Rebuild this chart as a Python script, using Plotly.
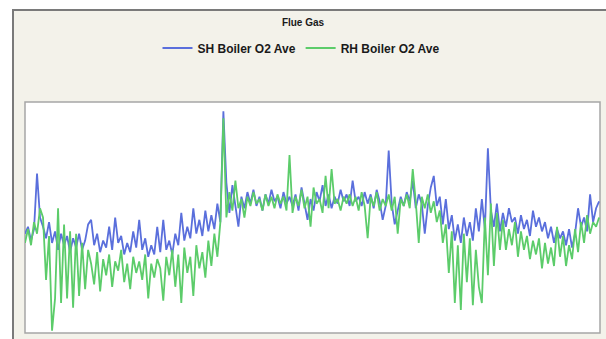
import plotly.graph_objects as go

title_text = "Flue Gas"
series_names = ["SH Boiler O2 Ave", "RH Boiler O2 Ave"]

# sample index (time order)
sample_idx = list(range(192))

sh_o2 = [4.3, 4.6, 4.0, 4.5, 6.9, 5.0,
         4.6, 4.1, 4.8, 3.9, 4.4, 3.6, 4.3, 3.8, 4.2, 3.5, 4.1, 3.7, 4.3, 3.6, 4.0, 4.7,
         4.9, 3.8, 4.3, 3.5, 4.0, 3.7, 4.6, 3.6, 5.0, 3.9, 4.2, 3.4, 3.9, 3.5, 4.4, 3.7,
         4.9, 3.6, 4.1, 3.3, 3.8, 3.4, 4.6, 3.5, 4.9, 3.6, 4.0,
         3.4, 4.3, 3.8, 5.2, 4.0, 4.6, 4.1, 5.4, 4.3, 4.9, 4.2, 5.3, 4.4, 5.1, 4.5, 5.6, 4.8,
         9.6, 6.5,
         5.2, 6.4, 5.5, 4.6, 5.9, 5.4, 6.1, 5.6, 6.2, 5.5,
         5.9, 5.3, 6.0, 5.6, 6.2, 5.7, 5.9, 5.4, 6.1, 5.6,
         5.9, 5.5, 6.0, 5.3, 6.3, 5.6, 4.9, 5.8, 5.3, 6.1,
         5.7, 6.4, 5.5, 6.0, 5.4, 5.9, 5.6, 6.2, 5.7, 6.0,
         5.5, 6.6, 5.7, 5.9, 5.5, 6.1, 5.6, 6.0, 5.4, 6.2,
         5.7, 4.9, 5.5, 7.9, 5.6, 4.7, 5.3, 5.9, 5.5, 6.1,
         5.7, 6.6, 5.4, 6.0, 5.6, 4.3, 5.5, 6.3, 6.8, 5.5, 5.9,
         4.7, 5.8, 4.5, 5.1, 4.0, 4.7, 3.9, 5.0, 4.2, 4.8, 4.0, 5.4, 4.4, 5.8, 4.5, 8.0,
         5.3, 4.6, 5.6, 4.4,
         5.2, 4.6, 5.4, 4.8, 5.0, 4.3, 5.1, 4.5, 4.9, 4.2,
         5.3, 4.6, 5.0, 4.4, 4.8, 4.1, 4.6, 3.9, 4.5, 4.1,
         4.4, 3.8, 4.5, 3.7, 4.3, 5.4, 4.6, 5.0, 4.4, 6.0,
         4.8, 5.4, 5.7]

rh_o2 = [3.9, 4.5, 3.8, 4.8, 4.3, 5.4,
         5.0, 2.3, 4.2, 0.1, 1.5, 5.4, 1.3, 4.7, 1.5, 4.4, 1.1, 4.3, 1.6, 3.9, 1.9, 3.6,
         3.0, 2.1, 3.5, 1.8, 3.2, 2.5, 3.4, 2.0, 3.1, 2.7, 3.6, 2.2, 3.0, 1.9, 3.3, 2.6,
         3.1, 2.3, 3.4, 1.5, 3.0, 2.4, 3.2, 2.8, 1.4, 3.3, 2.5,
         3.6, 2.0, 3.4, 1.3, 3.7, 2.6, 3.3, 1.6, 3.8, 2.8, 3.5, 2.4, 4.0, 2.9, 4.3, 3.3, 4.8,
         9.3, 5.0,
         6.1, 5.3, 6.6, 5.4, 5.8, 5.0, 5.9, 5.5, 6.1, 5.6,
         5.8, 5.3, 6.0, 5.5, 5.9, 5.4, 6.0, 5.6, 5.9, 5.3,
         7.7, 5.2, 5.9, 5.5, 6.2, 5.4, 5.9, 4.6, 6.3, 5.6,
         5.8, 5.2, 6.8, 5.4, 7.1, 5.6, 5.8, 5.3, 5.9, 5.6,
         6.0, 5.5, 5.9, 5.3, 6.1, 5.5, 4.1, 5.9, 5.5, 6.1,
         5.3, 5.8, 5.5, 6.0, 5.3, 5.9, 4.3, 5.8, 5.5, 6.0,
         5.4, 7.1, 5.7, 3.9, 5.9, 5.4, 6.0, 5.2, 5.7, 4.8, 5.3,
         3.9, 4.7, 2.6, 4.4, 1.3, 3.8, 1.0, 4.3, 2.2, 4.1, 1.2, 3.6, 2.0, 1.3, 5.0, 2.5,
         5.6, 2.9, 5.2, 3.6,
         4.9, 3.6, 4.5, 3.8, 4.8, 3.3, 4.4, 3.6, 4.2, 3.2,
         4.0, 3.4, 4.1, 2.8, 3.9, 3.0, 3.7, 2.9, 4.6, 3.3,
         4.2, 2.9, 3.8, 3.2, 4.5, 3.5, 4.8, 3.9, 5.1, 4.3,
         4.8, 4.6, 5.0]

series_colors = ["#5a6fdc", "#5ccc6a"]

W, H = 606, 339
L, R, T, B = 25, 6, 102, 6
pw, ph = W - L - R, H - T - B

def px_to_paper_x(px):
    return (px - L) / pw

def py_to_paper_y(py):
    return (H - B - py) / ph

fig = go.Figure()
for name, vals, col in zip(series_names, [sh_o2, rh_o2], series_colors):
    fig.add_trace(go.Scatter(x=sample_idx, y=vals, mode="lines", name=name,
                             line=dict(color=col, width=1.8)))

shapes = [
    # outer beige panel
    dict(type="rect", xref="paper", yref="paper", layer="below",
         x0=px_to_paper_x(13), x1=px_to_paper_x(612),
         y0=py_to_paper_y(345), y1=py_to_paper_y(10),
         fillcolor="#f3f2ea", line=dict(color="#7a7a7a", width=2)),
    # white plot area
    dict(type="rect", xref="paper", yref="paper", layer="below",
         x0=0, x1=1, y0=0, y1=1,
         fillcolor="#ffffff", line=dict(color="#a6a6a6", width=1.5)),
]

fig.update_layout(
    width=W, height=H,
    margin=dict(l=L, r=R, t=T, b=B, autoexpand=False),
    paper_bgcolor="#ffffff",
    plot_bgcolor="rgba(0,0,0,0)",
    shapes=shapes,
    title=dict(text="<b>" + title_text + "</b>", x=0.5, xanchor="center",
               y=1 - 22 / H, yanchor="middle",
               font=dict(family="Liberation Sans", size=10, color="#1a1a1a")),
    legend=dict(orientation="h", x=0.48, xanchor="center",
                y=py_to_paper_y(48), yanchor="middle",
                font=dict(family="Liberation Sans", size=12, color="#1a1a1a", weight="bold"),
                bgcolor="rgba(0,0,0,0)", itemwidth=30),
    xaxis=dict(visible=False, range=[0, 191.3], showgrid=False, zeroline=False),
    yaxis=dict(visible=False, range=[0, 10], showgrid=False, zeroline=False),
    showlegend=True,
)

fig.write_html(
    "out.html",
    config={"displayModeBar": False},
    post_script="document.body.style.margin='0';document.body.style.padding='0';"
                "document.body.style.overflow='hidden';",
)
